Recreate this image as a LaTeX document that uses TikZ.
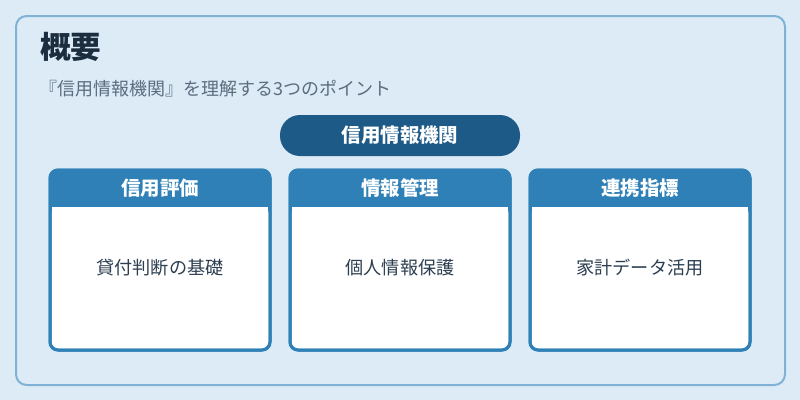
\documentclass[tikz,border=0pt]{standalone}
\usepackage{fontspec}
\setmainfont{Noto Sans CJK JP}
\usepackage{xcolor}
\usetikzlibrary{positioning}

\definecolor{bgblue}{HTML}{DCEBF6}
\definecolor{panelline}{HTML}{7FB2D5}
\definecolor{pilldark}{HTML}{1D5A88}
\definecolor{cardblue}{HTML}{2E80B6}
\definecolor{titleink}{HTML}{1B2E3F}
\definecolor{subink}{HTML}{5D6D7E}
\definecolor{bodyink}{HTML}{2C3E50}

\newcommand{\px}[1]{\fontsize{#1pt}{#1pt}\selectfont}

\begin{document}
\begin{tikzpicture}[x=0.75pt,y=-0.75pt,
    every node/.style={inner sep=0pt},
    cardframe/.style={draw=cardblue,line width=2.25pt,fill=white,rounded corners=6pt},
    cardhead/.style={fill=cardblue,rounded corners=6pt},
    headtext/.style={text=white,font=\px{14.6}\bfseries},
    bodytext/.style={text=bodyink,font=\px{13.6}}]
    \useasboundingbox (0,0) rectangle (800,400);
    \fill [bgblue] (0,0) rectangle (800,400);
    \draw [panelline,line width=1.5pt,rounded corners=8pt] (16,16) rectangle (785,385);
    % title and subtitle
    \node [anchor=west,text=titleink,font=\px{23}\bfseries] (title) at (40,47) {概要};
    \node [anchor=west,text=subink,font=\px{13.5}] (subtitle) at (39,89) {『信用情報機関』を理解する3つのポイント};
    % centre pill
    \fill [pilldark,rounded corners=15pt] (280,115) rectangle (520,156);
    \node [headtext] (pill) at (400,135.5) {信用情報機関};
    % three cards
    \foreach \x/\name/\head/\body in {50/eval/信用評価/貸付判断の基礎,
                                      290/info/情報管理/個人情報保護,
                                      530/link/連携指標/家計データ活用} {
        \draw [cardframe] (\x,170) rectangle (\x+220,350);
        \fill [cardhead] (\x,170) rectangle (\x+220,215);
        \fill [white] (\x+2,207) rectangle (\x+218,218);
        \draw [cardblue,line width=2.25pt,rounded corners=6pt] (\x,170) rectangle (\x+220,350);
        \node [headtext] (\name head) at (\x+110,188) {\head};
        \node [bodytext] (\name body) at (\x+110,268) {\body};
    }
\end{tikzpicture}
\end{document}
